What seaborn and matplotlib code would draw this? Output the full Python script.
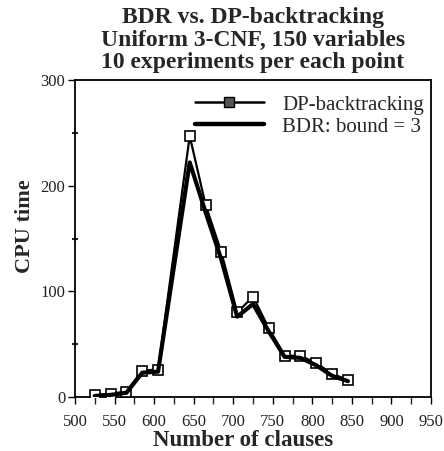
import numpy as np
import pandas as pd
import seaborn as sns
import matplotlib.pyplot as plt
from matplotlib.lines import Line2D
from matplotlib.ticker import MultipleLocator

# Number of clauses (150 variables, uniform 3-CNF)
clauses = [525, 545, 565, 585, 605, 645, 665, 685, 705, 725, 745, 765, 785, 805, 825, 845]
# Mean CPU time over 10 experiments per point
dp_backtracking = [2, 3, 5, 25, 26, 247, 182, 137, 80, 95, 65, 39, 39, 32, 22, 16]
bdr_bound3 = [1, 2, 4, 23, 24, 222, 175, 130, 76, 88, 62, 38, 37, 30, 20, 15]

series_names = ["DP-backtracking", "BDR: bound = 3"]
title_lines = ["BDR vs. DP-backtracking",
               "Uniform 3-CNF, 150 variables",
               "10 experiments per each point"]
x_ticks = [500, 550, 600, 650, 700, 750, 800, 850, 900, 950]
y_ticks = [0, 100, 200, 300]

df = pd.DataFrame({"clauses": clauses, "dp": dp_backtracking, "bdr": bdr_bound3})

sns.set_style("ticks")
plt.rcParams["font.family"] = ["Liberation Serif", "DejaVu Serif"]

W, H = 444, 451
fig = plt.figure(figsize=(W / 100, H / 100), dpi=100)
ax = fig.add_axes([75 / W, 1 - 397 / H, (431 - 75) / W, (397 - 80) / H])

sns.lineplot(data=df, x="clauses", y="dp", ax=ax, color="black", linewidth=1.6,
             marker="s", markersize=6.5, markerfacecolor="white",
             markeredgecolor="black", markeredgewidth=1.2, zorder=3)
sns.lineplot(data=df, x="clauses", y="bdr", ax=ax, color="black", linewidth=3.0,
             zorder=4)

ax.set_xlim(500, 950)
ax.set_ylim(0, 300)
ax.set_xticks(x_ticks)
ax.set_yticks(y_ticks)
ax.xaxis.set_minor_locator(MultipleLocator(25))
ax.yaxis.set_minor_locator(MultipleLocator(50))
ax.tick_params(axis="both", which="major", direction="out", length=5, width=1,
               color="black", labelsize=12, labelcolor="#222222")
ax.tick_params(axis="x", which="major", pad=7)
ax.tick_params(axis="y", which="major", pad=2)
ax.tick_params(axis="x", which="minor", direction="out", length=5, width=1)
ax.tick_params(axis="y", which="minor", direction="inout", length=4, width=1.5)

for side in ["left", "right", "top", "bottom"]:
    ax.spines[side].set_visible(True)
    ax.spines[side].set_linewidth(1.3)
    ax.spines[side].set_color("black")

ax.set_xlabel("Number of clauses", fontsize=16.5, fontweight="bold", labelpad=0)
ax.xaxis.set_label_coords((243 - 75) / (431 - 75), -(440 - 397) / (397 - 80))
ax.xaxis.label.set_va("center")
ax.set_ylabel("CPU time", fontsize=16, fontweight="bold")
ax.yaxis.set_label_coords(-(75 - 25) / (431 - 75), (397 - 226) / (397 - 80))
ax.yaxis.label.set_va("center")

handles = [
    Line2D([], [], color="black", linewidth=1.8, marker="s", markersize=6.5,
           markerfacecolor="#555555", markeredgecolor="black"),
    Line2D([], [], color="black", linewidth=3.2),
]
ax.legend(handles, series_names, loc="upper left",
          bbox_to_anchor=((195 - 75) / (431 - 75), 1 - (95 - 80) / (397 - 80)),
          frameon=False, fontsize=15, handlelength=3.3, handletextpad=0.9,
          labelspacing=0.12, borderpad=0, borderaxespad=0)

baselines = [23, 46, 68]
for line, yb in zip(title_lines, baselines):
    fig.text(253 / W, 1 - yb / H, line, ha="center", va="baseline",
             fontsize=17, fontweight="bold")

fig.savefig("out.png", dpi=100)
